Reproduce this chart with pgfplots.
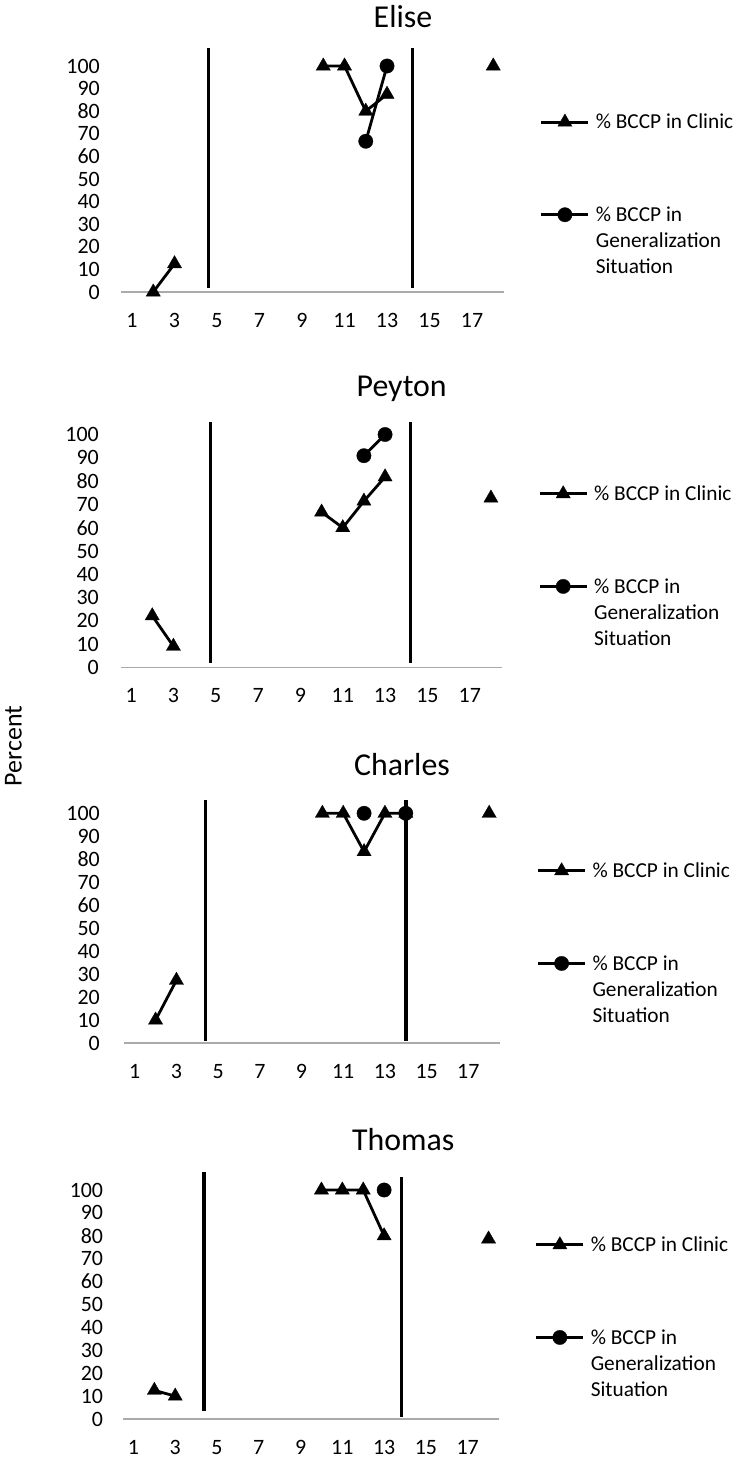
\documentclass[border=0pt]{standalone}
\usepackage{fontspec}
\setmainfont{Carlito}
\usepackage{pgfplots}
\pgfplotsset{compat=1.18}
\definecolor{axgray}{RGB}{170,170,170}
\newcommand{\lfont}{\fontsize{22}{26}\selectfont}
\newcommand{\legfont}{\fontsize{21.4}{26}\selectfont}
\pgfplotsset{
  panel/.style={
    scale only axis, xmin=0.5, xmax=18.5, ymin=0, ymax=100,
    axis x line*=bottom, axis y line*=left,
    x axis line style={axgray, line width=1.5bp, -},
    y axis line style={draw=none},
    major tick length=0pt,
    xtick={1,3,...,17}, ytick={0,10,...,100},
    /pgf/number format/assume math mode=true,
    tick label style={font=\lfont},
    xticklabel style={inner sep=0pt, anchor=north, yshift=-21bp},
    clip=false,
    unbounded coords=jump,
    legend style={draw=none, fill=none, inner sep=0pt, outer sep=0pt, anchor=north west,
      row sep=73bp, column sep=6bp, font=\legfont, cells={anchor=base west},
      nodes={inner sep=0pt}},
    legend image code/.code={\draw[#1, yshift=6.8bp, mark repeat=2, mark phase=2]
      plot coordinates {(0bp,0bp) (23.5bp,0bp) (47bp,0bp)};},
  },
  clinic/.style={black, line width=2.8bp, mark=triangle*, mark size=8.2bp,
    mark options={solid, line width=0.3bp}},
  gen/.style={black, line width=2.8bp, mark=*, mark size=7.2bp,
    mark options={solid, line width=0.3bp}},
  vline/.style={black, line width=3.2bp, mark=none, forget plot},
}
\newcommand{\genentry}{\begin{tabular}[t]{@{}l@{}}\% BCCP in\\Generalization\\Situation\end{tabular}}
\begin{document}
\begin{tikzpicture}
\path[use as bounding box] (0,0) rectangle (737bp,-1457bp);

% ---------------- Elise
\begin{axis}[panel, at={(121.4bp,-292bp)}, anchor=south west,
  width=382.5bp, height=226bp,
  yticklabel style={inner sep=0pt, anchor=east, xshift=-21.4bp},
  legend style={at={(1.0944,0.788)}}]
\addplot[vline] coordinates {(4.61,1.8) (4.61,108)};
\addplot[vline] coordinates {(14.21,1.8) (14.21,108)};
\addplot[clinic] coordinates {(2,0) (3,12.5) (4,nan) (10,100) (11,100) (12,80) (13,87.5) (14,nan) (18,100)};
\addlegendentry{\% BCCP in Clinic}
\addplot[gen] coordinates {(12,66.7) (13,100)};
\addlegendentry{\genentry}
\end{axis}

% ---------------- Peyton
\begin{axis}[panel, at={(120.5bp,-667.5bp)}, anchor=south west,
  width=381bp, height=233bp,
  yticklabel style={inner sep=0pt, anchor=east, xshift=-21.5bp},
  legend style={at={(1.0966,0.7807)}}]
\addplot[vline] coordinates {(4.74,2) (4.74,105.5)};
\addplot[vline] coordinates {(14.21,2) (14.21,105.5)};
\addplot[clinic] coordinates {(2,22.2) (3,9.1) (4,nan) (10,66.7) (11,60) (12,71.4) (13,81.8) (14,nan) (18,72.7)};
\addlegendentry{\% BCCP in Clinic}
\addplot[gen] coordinates {(12,90.9) (13,100)};
\addlegendentry{\genentry}
\end{axis}

% ---------------- Charles
\begin{axis}[panel, at={(124.3bp,-1043bp)}, anchor=south west,
  width=375.3bp, height=229.7bp,
  yticklabel style={inner sep=0pt, anchor=east, xshift=-24.3bp},
  legend style={at={(1.0989,0.7854)}}]
\addplot[vline] coordinates {(4.40,1) (4.40,106)};
\addplot[vline] coordinates {(14.01,1) (14.01,106)};
\addplot[clinic] coordinates {(2,10) (3,27.3) (4,nan) (10,100) (11,100) (12,83.3) (13,100) (14,100) (15,nan) (18,100)};
\addlegendentry{\% BCCP in Clinic}
\addplot[gen] coordinates {(12,100) (13,nan) (14,100)};
\addlegendentry{\genentry}
\end{axis}

% ---------------- Thomas
\begin{axis}[panel, at={(123bp,-1419bp)}, anchor=south west,
  width=376bp, height=229bp,
  yticklabel style={inner sep=0pt, anchor=east, xshift=-19.7bp},
  legend style={at={(1.0957,0.7965)}}]
\addplot[vline] coordinates {(4.38,3.3) (4.38,108)};
\addplot[vline] coordinates {(13.84,0.9) (13.84,105.8)};
\addplot[clinic] coordinates {(2,12.5) (3,10) (4,nan) (10,100) (11,100) (12,100) (13,80) (14,nan) (18,78.6)};
\addlegendentry{\% BCCP in Clinic}
\addplot[gen] coordinates {(13,100)};
\addlegendentry{\genentry}
\end{axis}

% titles
\node[font=\fontsize{32}{38}\selectfont, anchor=base] at (403bp,-27.3bp) {Elise};
\node[font=\fontsize{32}{38}\selectfont, anchor=base] at (401.7bp,-396bp) {Peyton};
\node[font=\fontsize{32}{38}\selectfont, anchor=base] at (402bp,-775bp) {Charles};
\node[font=\fontsize{32}{38}\selectfont, anchor=base] at (403.3bp,-1150bp) {Thomas};
% y label
\node[font=\fontsize{26}{30}\selectfont, rotate=90, anchor=base] at (21.7bp,-746bp) {Percent};
\end{tikzpicture}
\end{document}
